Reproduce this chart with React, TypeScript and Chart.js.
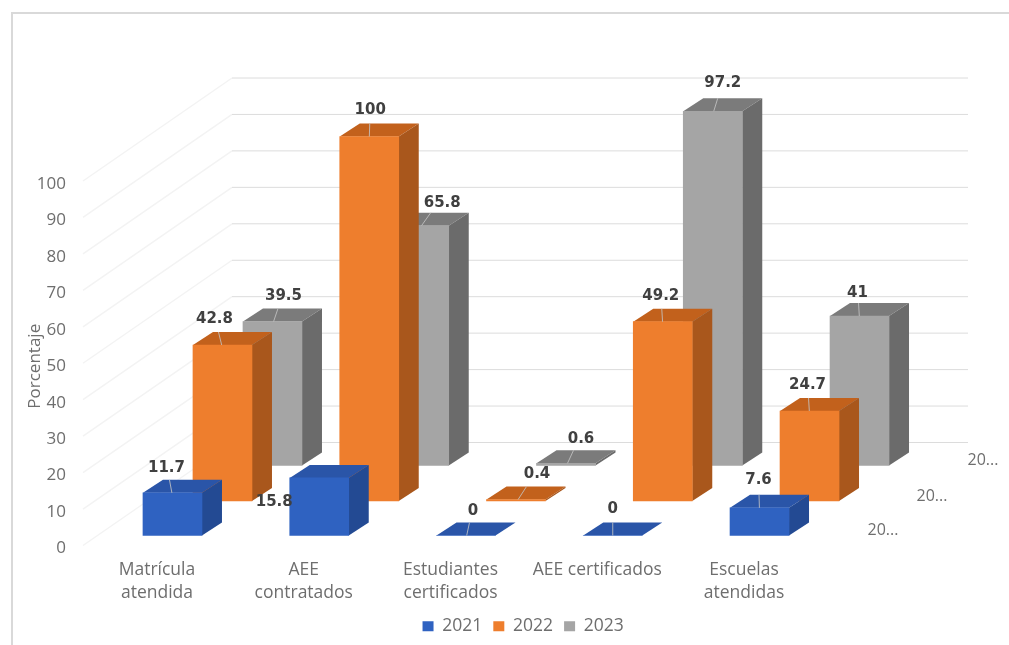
import React, { useEffect, useRef } from "react";
import { Chart, registerables } from "chart.js";

Chart.register(...registerables);

const categories = [
  ["Matrícula", "atendida"],
  ["AEE", "contratados"],
  ["Estudiantes", "certificados"],
  "AEE certificados",
  ["Escuelas", "atendidas"],
];
const seriesNames = ["2021", "2022", "2023"];
const values2021 = [11.7, 15.8, 0, 0, 7.6];
const values2022 = [42.8, 100, 0.4, 49.2, 24.7];
const values2023 = [39.5, 65.8, 0.6, 97.2, 41];
const depthAxisLabels = ["20...", "20...", "20..."];

// drawing style, kept apart from the data
const FRONT = ["#2f62c1", "#ee7e2d", "#a5a5a5"];
const SIDE = ["#234a93", "#a9571c", "#6b6b6b"];
const TOP = ["#2a55a8", "#c2611c", "#7b7b7b"];
const SHIFT = [
  { x: 15.5, y: -13 },
  { x: 65.5, y: -47.5 },
  { x: 115.5, y: -83 },
];
const DEPTH = { x: 20, y: 13 };
const LABEL_NUDGE = [
  [[-6, -25], [-45, 24], [7, -24], [0, -26], [-1, -28]],
  [[-8, -26], [1, -26], [21, -25], [-2, -26], [-2, -26]],
  [[11, -25], [23, -23], [15, -24], [10, -28], [-2, -23]],
];
const DEPTH_LABEL_POS = [
  { x: 883, y: 530 },
  { x: 932, y: 496 },
  { x: 983, y: 460 },
];
const TEXT = "#6e6e6e";
const LABEL = "#404040";
const TICK_FONT = "'Open Sans'";
const AREA = { left: 83.6, right: 817.4, top: 184, bottom: 549 };

const scene3d = {
  id: "scene3d",
  afterLayout(chart: any) {
    const lg = chart.legend;
    if (lg) {
      lg.left += 102;
      lg.right += 102;
    }
  },
  beforeDatasetsDraw(chart: any) {
    const { ctx, scales } = chart;
    ctx.save();
    for (const t of scales.y.ticks) {
      const y = scales.y.getPixelForValue(t.value) - 3;
      ctx.strokeStyle = "#f3f3f3";
      ctx.lineWidth = 1.5;
      ctx.beginPath();
      ctx.moveTo(83, y);
      ctx.lineTo(232, y - 103);
      ctx.stroke();
      ctx.strokeStyle = "#dcdcdc";
      ctx.lineWidth = 1;
      ctx.beginPath();
      ctx.moveTo(232, y - 103);
      ctx.lineTo(968, y - 103);
      ctx.stroke();
    }
    ctx.restore();
  },
  beforeDatasetDraw(chart: any, args: any) {
    const { ctx } = chart;
    const i = args.index;
    ctx.save();
    ctx.translate(SHIFT[i].x, SHIFT[i].y);
    for (const el of chart.getDatasetMeta(i).data) {
      const x1 = el.x - el.width / 2;
      const x2 = el.x + el.width / 2;
      ctx.fillStyle = TOP[i];
      ctx.beginPath();
      ctx.moveTo(x1, el.y);
      ctx.lineTo(x1 + DEPTH.x, el.y - DEPTH.y);
      ctx.lineTo(x2 + DEPTH.x, el.y - DEPTH.y);
      ctx.lineTo(x2, el.y);
      ctx.closePath();
      ctx.fill();
      ctx.fillStyle = SIDE[i];
      ctx.beginPath();
      ctx.moveTo(x2, el.y);
      ctx.lineTo(x2 + DEPTH.x, el.y - DEPTH.y);
      ctx.lineTo(x2 + DEPTH.x, el.base - DEPTH.y);
      ctx.lineTo(x2, el.base);
      ctx.closePath();
      ctx.fill();
    }
  },
  afterDatasetDraw(chart: any) {
    chart.ctx.restore();
  },
  afterDraw(chart: any) {
    const { ctx } = chart;
    ctx.save();
    ctx.textAlign = "center";
    ctx.textBaseline = "middle";
    chart.data.datasets.forEach((ds: any, i: number) => {
      chart.getDatasetMeta(i).data.forEach((el: any, j: number) => {
        const cx = el.x + SHIFT[i].x;
        const top = el.y + SHIFT[i].y;
        const lx = cx + LABEL_NUDGE[i][j][0];
        const ly = top + LABEL_NUDGE[i][j][1];
        if (!(i === 0 && j === 1)) {
          ctx.strokeStyle = "rgba(195,195,195,0.85)";
          ctx.lineWidth = 1;
          ctx.beginPath();
          ctx.moveTo(cx + LABEL_NUDGE[i][j][0] * 0.5, top - DEPTH.y);
          ctx.lineTo(cx + LABEL_NUDGE[i][j][0] * 0.1, top);
          ctx.stroke();
        }
        ctx.fillStyle = LABEL;
        ctx.font = "bold 15px 'DejaVu Sans'";
        ctx.fillText(String(ds.data[j]), lx, ly);
      });
    });
    ctx.fillStyle = TEXT;
    ctx.font = `16px ${TICK_FONT}`;
    depthAxisLabels.forEach((t, i) => {
      ctx.fillText(t, DEPTH_LABEL_POS[i].x, DEPTH_LABEL_POS[i].y);
    });
    ctx.restore();
  },
};

export default function App() {
  const ref = useRef<HTMLCanvasElement>(null);
  useEffect(() => {
    const series = [values2021, values2022, values2023];
    const chart = new Chart(ref.current as HTMLCanvasElement, {
      type: "bar",
      data: {
        labels: categories as any,
        datasets: series.map((data, i) => ({
          label: seriesNames[i],
          data,
          backgroundColor: FRONT[i],
          borderWidth: 0,
          barThickness: 59,
          grouped: false,
          clip: false,
        })) as any,
      },
      options: {
        responsive: false,
        animation: false,
        devicePixelRatio: 1,
        layout: {
          padding: { left: 25, right: 1009 - AREA.right, top: AREA.top, bottom: 0 },
        },
        plugins: {
          tooltip: { enabled: false },
          title: { display: false },
          legend: {
            display: true,
            position: "bottom",
            labels: {
              boxWidth: 11,
              boxHeight: 10,
              padding: 11,
              color: TEXT,
              font: { family: TICK_FONT, size: 17.5 },
            },
          },
        },
        scales: {
          x: {
            afterFit: (s: any) => {
              s.height = 58;
            },
            grid: { display: false },
            border: { display: false },
            ticks: {
              color: TEXT,
              padding: 2,
              autoSkip: false,
              maxRotation: 0,
              minRotation: 0,
              font: { family: TICK_FONT, size: 17.5, lineHeight: 1.31 },
            },
          },
          y: {
            min: 0,
            max: 100,
            afterFit: (s: any) => {
              s.width = AREA.left - 25;
            },
            grid: { display: false },
            border: { display: false },
            title: {
              display: true,
              text: "Porcentaje",
              color: TEXT,
              padding: 0,
              font: { family: TICK_FONT, size: 17 },
            },
            ticks: {
              stepSize: 10,
              color: TEXT,
              padding: 9.6,
              font: { family: TICK_FONT, size: 17 },
            },
          },
        },
      },
      plugins: [scene3d as any],
    });
    return () => chart.destroy();
  }, []);
  return (
    <div
      style={{
        position: "absolute",
        left: 0,
        top: 0,
        width: 1009,
        height: 645,
        background: "#fff",
        overflow: "hidden",
      }}
    >
      <div
        style={{
          position: "absolute",
          left: 11,
          top: 12,
          right: 0,
          bottom: 0,
          borderLeft: "2px solid #d9d9d9",
          borderTop: "2px solid #d9d9d9",
        }}
      />
      <canvas
        ref={ref}
        width={1009}
        height={645}
        style={{ position: "absolute", left: 0, top: 0, filter: "blur(0.6px)" }}
      />
    </div>
  );
}
